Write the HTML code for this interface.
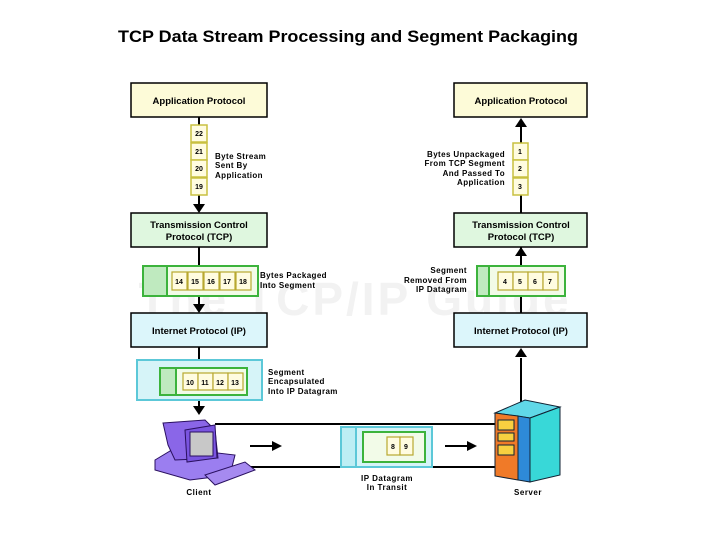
<!DOCTYPE html>
<html><head><meta charset="utf-8"><style>
html,body{margin:0;padding:0;background:#fff}
svg{display:block}
text{font-family:"Liberation Sans",sans-serif;font-weight:bold}
</style></head><body>
<svg width="720" height="540" viewBox="0 0 720 540" xmlns="http://www.w3.org/2000/svg">
<text x="348" y="42" font-size="17" text-anchor="middle" fill="#000" textLength="460" lengthAdjust="spacingAndGlyphs">TCP Data Stream Processing and Segment Packaging</text>
<text x="355" y="315" font-size="46" text-anchor="middle" fill="#f2f2f2" font-weight="normal" letter-spacing="3">The TCP/IP Guide</text>

<g stroke="#000" stroke-width="2" fill="none">
<line x1="199" y1="117" x2="199" y2="206"/>
<line x1="199" y1="247" x2="199" y2="305"/>
<line x1="199" y1="347" x2="199" y2="408"/>
<line x1="521" y1="124" x2="521" y2="213"/>
<line x1="521" y1="224" x2="521" y2="313"/>
<line x1="521" y1="358" x2="521" y2="405"/>
<line x1="215" y1="424" x2="495" y2="424"/>
<line x1="215" y1="467" x2="495" y2="467"/>
<line x1="250" y1="446" x2="275" y2="446"/>
<line x1="445" y1="446" x2="470" y2="446"/>
</g>
<g fill="#000">
<polygon points="193,204 205,204 199,213"/>
<polygon points="193,304 205,304 199,313"/>
<polygon points="193,406 205,406 199,415"/>
<polygon points="515,127 527,127 521,118"/>
<polygon points="515,256 527,256 521,247"/>
<polygon points="515,357 527,357 521,348"/>
<polygon points="272,441 272,451 282,446"/>
<polygon points="467,441 467,451 477,446"/>
</g>

<g stroke="#000" stroke-width="1.5">
<rect x="131" y="83" width="136" height="34" fill="#fdfbd8"/>
<rect x="454" y="83" width="133" height="34" fill="#fdfbd8"/>
<rect x="131" y="213" width="136" height="34" fill="#dff7df"/>
<rect x="454" y="213" width="133" height="34" fill="#dff7df"/>
<rect x="131" y="313" width="136" height="34" fill="#dcf6fb"/>
<rect x="454" y="313" width="133" height="34" fill="#dcf6fb"/>
</g>
<g font-size="9.5" text-anchor="middle" fill="#000">
<text x="199" y="104">Application Protocol</text>
<text x="521" y="104">Application Protocol</text>
<text x="199" y="228">Transmission Control</text>
<text x="199" y="240">Protocol (TCP)</text>
<text x="521" y="228">Transmission Control</text>
<text x="521" y="240">Protocol (TCP)</text>
<text x="199" y="334">Internet Protocol (IP)</text>
<text x="521" y="334">Internet Protocol (IP)</text>
</g>

<g stroke="#c8c040" stroke-width="1.5" fill="#fffce0">
<rect x="191" y="125" width="16" height="17"/><rect x="191" y="143" width="16" height="17"/>
<rect x="191" y="160" width="16" height="17"/><rect x="191" y="178" width="16" height="17"/>
<rect x="513" y="143" width="15" height="17"/><rect x="513" y="160" width="15" height="17"/>
<rect x="513" y="178" width="15" height="17"/>
</g>
<g font-size="7" text-anchor="middle" fill="#000">
<text x="199" y="136">22</text><text x="199" y="154">21</text><text x="199" y="171">20</text><text x="199" y="189">19</text>
<text x="520" y="154">1</text><text x="520" y="171">2</text><text x="520" y="189">3</text>
</g>

<g stroke="#3cb33c" stroke-width="2">
<rect x="143" y="266" width="115" height="30" fill="#f2fbe8"/>
<rect x="143" y="266" width="24" height="30" fill="#bfeabf"/>
<rect x="477" y="266" width="88" height="30" fill="#f2fbe8"/>
<rect x="477" y="266" width="12" height="30" fill="#bfeabf"/>
</g>
<rect x="137" y="360" width="125" height="40" fill="#d6f4f8" stroke="#5cc8d8" stroke-width="2"/>
<rect x="160" y="368" width="87" height="27" fill="#f2fbe8" stroke="#3cb33c" stroke-width="2"/>
<rect x="160" y="368" width="16" height="27" fill="#bfeabf" stroke="#3cb33c" stroke-width="2"/>
<rect x="341" y="427" width="91" height="40" fill="#d6f4f8" stroke="#5cc8d8" stroke-width="2"/>
<rect x="341" y="427" width="15" height="40" fill="#bdeef4" stroke="#5cc8d8" stroke-width="2"/>
<rect x="363" y="432" width="62" height="30" fill="#f2fbe8" stroke="#3cb33c" stroke-width="2"/>

<g stroke="#b8a830" stroke-width="1.2" fill="#fffce0">
<rect x="172" y="272" width="15" height="18"/><rect x="188" y="272" width="15" height="18"/><rect x="204" y="272" width="15" height="18"/><rect x="220" y="272" width="15" height="18"/><rect x="236" y="272" width="15" height="18"/>
<rect x="498" y="272" width="15" height="18"/><rect x="513" y="272" width="15" height="18"/><rect x="528" y="272" width="15" height="18"/><rect x="543" y="272" width="15" height="18"/>
<rect x="183" y="373" width="15" height="17"/><rect x="198" y="373" width="15" height="17"/><rect x="213" y="373" width="15" height="17"/><rect x="228" y="373" width="15" height="17"/>
<rect x="387" y="437" width="13" height="18"/><rect x="400" y="437" width="13" height="18"/>
</g>
<g font-size="7" text-anchor="middle" fill="#000">
<text x="179" y="284">14</text><text x="195" y="284">15</text><text x="211" y="284">16</text><text x="227" y="284">17</text><text x="243" y="284">18</text>
<text x="505" y="284">4</text><text x="520" y="284">5</text><text x="535" y="284">6</text><text x="550" y="284">7</text>
<text x="190" y="385">10</text><text x="205" y="385">11</text><text x="220" y="385">12</text><text x="235" y="385">13</text>
<text x="393" y="449">8</text><text x="406" y="449">9</text>
</g>

<g font-size="8" fill="#000" letter-spacing="0.4">
<text x="215" y="159">Byte Stream</text><text x="215" y="168">Sent By</text><text x="215" y="178">Application</text>
<text x="260" y="278">Bytes Packaged</text><text x="260" y="288">Into Segment</text>
<text x="268" y="375">Segment</text><text x="268" y="384">Encapsulated</text><text x="268" y="394">Into IP Datagram</text>
</g>
<g font-size="8" fill="#000" text-anchor="end" letter-spacing="0.4">
<text x="505" y="157">Bytes Unpackaged</text><text x="505" y="166">From TCP Segment</text><text x="505" y="176">And Passed To</text><text x="505" y="185">Application</text>
<text x="467" y="273">Segment</text><text x="467" y="283">Removed From</text><text x="467" y="292">IP Datagram</text>
</g>
<g font-size="8" fill="#000" text-anchor="middle" letter-spacing="0.5">
<text x="199" y="495">Client</text>
<text x="528" y="495">Server</text>
<text x="387" y="481">IP Datagram</text><text x="387" y="490">In Transit</text>
</g>

<g stroke="#2a1060" stroke-width="1">
<polygon points="155,460 175,448 235,455 230,475 190,480 155,470" fill="#9b7ef0"/>
<polygon points="163,423 205,420 215,430 218,458 175,460 168,445" fill="#8a66e8"/>
<polygon points="185,430 215,425 217,458 187,462" fill="#7a55e0"/>
<rect x="190" y="432" width="23" height="24" fill="#c8c8c8"/>
<polygon points="205,475 245,462 255,470 215,485" fill="#a68af0"/>
</g>

<g stroke="#123" stroke-width="1">
<polygon points="495,413 525,400 560,407 530,418" fill="#60d8e8"/>
<polygon points="530,418 560,407 560,475 530,482" fill="#38d8d8"/>
<polygon points="518,416 530,418 530,482 518,480" fill="#2e8ad8"/>
<polygon points="495,413 518,416 518,480 495,476" fill="#f07a28"/>
<rect x="498" y="420" width="16" height="10" fill="#f8d040"/>
<rect x="498" y="433" width="16" height="8" fill="#f8d040"/>
<rect x="498" y="445" width="16" height="10" fill="#f8d040"/>
</g>
</svg>
</body></html>
